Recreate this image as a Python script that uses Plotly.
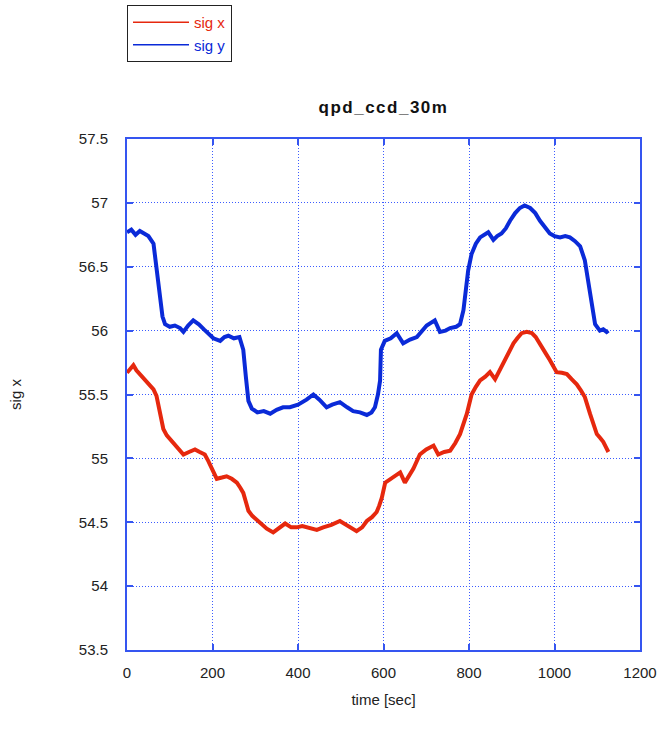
import plotly.graph_objects as go

# sig x / sig y traces over time
time_x = [0, 8, 15, 22, 30, 42, 54, 62, 69, 77, 85, 93, 101, 108, 116, 124, 132, 145, 159, 170,
          182, 190, 198, 204, 210, 222, 233, 245, 257, 265, 272, 278, 284, 293, 303, 315, 327, 342,
          355, 370, 384, 397, 410, 428, 444, 459, 478, 498, 518, 537, 550, 561, 573, 584, 590, 596,
          604, 613, 623, 639, 650, 660, 670, 685, 700, 717, 728, 742, 756, 768, 779, 795, 806, 816,
          826, 838, 849, 861, 870, 880, 892, 904, 913, 923, 935, 947, 956, 966, 978, 989, 1005,
          1017, 1029, 1040, 1052, 1062, 1071, 1083, 1091, 1099, 1107, 1114, 1120, 1126]
sig_x = [55.67, 55.70, 55.73, 55.69, 55.66, 55.62, 55.58, 55.54, 55.49, 55.35, 55.23, 55.18, 55.15,
         55.12, 55.09, 55.06, 55.03, 55.05, 55.07, 55.05, 55.03, 54.98, 54.93, 54.88, 54.84, 54.85,
         54.86, 54.84, 54.81, 54.77, 54.73, 54.66, 54.59, 54.55, 54.52, 54.48, 54.45, 54.42, 54.45,
         54.49, 54.46, 54.46, 54.47, 54.45, 54.44, 54.46, 54.48, 54.51, 54.47, 54.43, 54.46, 54.51,
         54.54, 54.58, 54.63, 54.69, 54.81, 54.83, 54.85, 54.89, 54.81, 54.86, 54.92, 55.03, 55.07,
         55.10, 55.03, 55.05, 55.06, 55.12, 55.19, 55.35, 55.50, 55.56, 55.61, 55.64, 55.675, 55.62,
         55.68, 55.74, 55.82, 55.90, 55.94, 55.98, 55.99, 55.98, 55.95, 55.90, 55.83, 55.77, 55.675,
         55.67, 55.66, 55.62, 55.58, 55.53, 55.48, 55.35, 55.27, 55.19, 55.16, 55.13, 55.09, 55.05]

time_y = [0, 10, 20, 30, 40, 50, 62, 69, 77, 83, 89, 100, 112, 124, 132, 143, 155, 168, 180, 192,
          202, 218, 228, 237, 250, 263, 272, 278, 284, 292, 305, 320, 335, 350, 365, 381, 400, 420,
          436, 450, 467, 480, 498, 515, 529, 545, 561, 572, 580, 587, 592, 594, 603, 617, 631, 646,
          662, 678, 690, 701, 720, 732, 745, 756, 770, 779, 787, 791, 798, 806, 816, 826, 845, 857,
          866, 876, 886, 896, 908, 919, 930, 943, 955, 966, 978, 989, 1000, 1013, 1025, 1036, 1048,
          1060, 1071, 1079, 1087, 1095, 1106, 1114, 1122, 1126]
sig_y = [56.77, 56.79, 56.75, 56.78, 56.76, 56.74, 56.68, 56.50, 56.29, 56.11, 56.05, 56.03, 56.04,
         56.02, 55.99, 56.04, 56.08, 56.05, 56.01, 55.97, 55.94, 55.92, 55.95, 55.96, 55.94, 55.95,
         55.85, 55.64, 55.45, 55.39, 55.36, 55.37, 55.35, 55.38, 55.40, 55.40, 55.42, 55.46, 55.50,
         55.46, 55.40, 55.42, 55.44, 55.40, 55.37, 55.36, 55.34, 55.36, 55.40, 55.50, 55.61, 55.85,
         55.92, 55.94, 55.98, 55.90, 55.93, 55.95, 56.00, 56.04, 56.08, 55.99, 56.00, 56.02, 56.03,
         56.05, 56.16, 56.26, 56.47, 56.60, 56.68, 56.73, 56.77, 56.71, 56.74, 56.76, 56.80, 56.86,
         56.92, 56.96, 56.98, 56.96, 56.92, 56.86, 56.81, 56.76, 56.74, 56.73, 56.74, 56.73, 56.70,
         56.66, 56.55, 56.37, 56.21, 56.05, 56.00, 56.01, 55.99, 56.00]

series_names = ["sig x", "sig y"]
RED = "#e6280e"
BLUE = "#0a2ad8"
GRID = "#3c5cff"
FRAME = "#3555f0"
FONT = "Liberation Sans, Arial, sans-serif"

fig = go.Figure()
fig.add_trace(go.Scatter(x=time_x, y=sig_x, mode="lines", line=dict(color=RED, width=4),
                         showlegend=False))
fig.add_trace(go.Scatter(x=time_y, y=sig_y, mode="lines", line=dict(color=BLUE, width=4),
                         showlegend=False))
# thin legend entries
for name, col in zip(series_names, [RED, BLUE]):
    fig.add_trace(go.Scatter(x=[None], y=[None], mode="lines", line=dict(color=col, width=1.5),
                             name=f"<span style='color:{col}'>{name}</span>"))

axis_common = dict(
    showline=True, linecolor=FRAME, linewidth=2, mirror="ticks",
    ticks="inside", ticklen=6, tickcolor=FRAME, tickwidth=2,
    showgrid=True, gridcolor=GRID, gridwidth=1, griddash="1px,2px",
    zeroline=False, automargin=False,
    tickfont=dict(family=FONT, size=15, color="#222"),
    title_font=dict(family=FONT, size=15, color="#222"),
)

fig.update_xaxes(range=[0, 1200], dtick=200, title_text="time [sec]", title_standoff=14,
                 ticklabelstandoff=8, **axis_common)
fig.update_yaxes(range=[53.5, 57.5], dtick=0.5, title_text="sig x", title_standoff=54,
                 ticklabelstandoff=14, **axis_common)

fig.update_layout(
    width=659, height=742,
    margin=dict(l=127, r=19, t=139, b=92, autoexpand=False),
    paper_bgcolor="white", plot_bgcolor="white",
    title=dict(text="<b><span style='letter-spacing:1.5px'>qpd_ccd_30m</span></b>",
               x=(127 + 640) / 2 / 659, xanchor="center",
               y=1 - 107 / 742, yanchor="middle", font=dict(family=FONT, size=17, color="#111")),
    legend=dict(x=0, y=1.262, xanchor="left", yanchor="top", bordercolor="#222", borderwidth=1,
                bgcolor="white", font=dict(family=FONT, size=15), itemwidth=56,
                tracegroupgap=0),
    showlegend=True,
)

fig.write_html("out.html")
